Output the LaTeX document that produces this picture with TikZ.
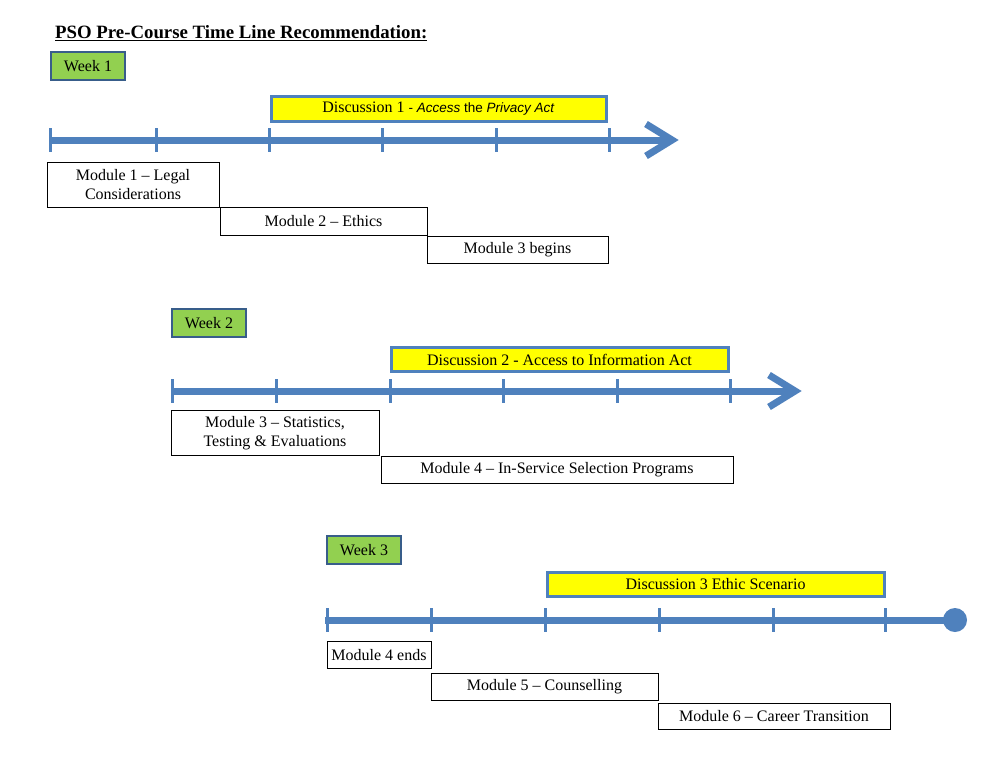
\documentclass[tikz,border=0pt]{standalone}
\usepackage{fontspec}
\setmainfont{Liberation Serif}
\newfontfamily\arial{Liberation Sans}
\definecolor{tlblue}{HTML}{4F81BD}
\definecolor{wkgreen}{HTML}{92D050}
\definecolor{wkborder}{HTML}{385D8A}
\definecolor{discyellow}{HTML}{FFFF00}
\begin{document}
\begin{tikzpicture}[x=1pt,y=-1pt,
  txt/.style={font=\fontsize{16}{19}\selectfont},
  modbox/.style={txt,draw=black,line width=0.8pt,fill=white,inner sep=0pt,align=center},
  weekbox/.style={txt,draw=wkborder,line width=1.2pt,fill=wkgreen,inner sep=0pt,minimum width=74pt,minimum height=28pt},
  discbox/.style={txt,draw=tlblue,line width=3pt,fill=discyellow,inner sep=0pt},
  tline/.style={draw=tlblue,line width=7pt},
  tick/.style={draw=tlblue,line width=3pt},
  chev/.style={draw=tlblue,line width=7pt,line join=miter,miter limit=10}
]
\useasboundingbox (0,0) rectangle (1008,758);
\fill[white] (0,0) rectangle (1008,758);

% title
\node[anchor=west,inner sep=0pt,font=\fontsize{18.8}{22}\selectfont\bfseries] (title) at (55,33) {\underline{PSO Pre-Course Time Line Recommendation:}};

% ---------- Week 1 ----------
\node[weekbox] (w1) at (88,66) {Week 1};
\node[discbox,minimum width=335pt,minimum height=25pt] (d1) at (438.5,108.5)
  {Discussion 1 {\arial\fontsize{13.5}{16}\selectfont - \textit{Access} the \textit{Privacy Act}}};
\coordinate (t1s) at (49,140);
\coordinate (t1e) at (668,140);
\draw[tline] (t1s) -- (t1e);
\foreach \x in {50,156,269,382,496,609} \draw[tick] (\x,128) -- (\x,152);
\draw[chev] (646,124) -- (672,140) -- (646,156);
\node[modbox,minimum width=172pt,minimum height=45pt] (m1) at (133,185) {Module 1 -- Legal\\Considerations};
\node[modbox,minimum width=207pt,minimum height=28pt] (m2) at (323.5,221) {Module 2 -- Ethics};
\node[modbox,minimum width=181pt,minimum height=27pt] (m3a) at (517.5,249.5) {Module 3 begins};

% ---------- Week 2 ----------
\node[weekbox] (w2) at (209,323) {Week 2};
\node[discbox,minimum width=337pt,minimum height=24pt] (d2) at (559.5,359.5)
  {Discussion 2 - Access to Information Act};
\coordinate (t2s) at (171,391);
\coordinate (t2e) at (791,391);
\draw[tline] (t2s) -- (t2e);
\foreach \x in {172,276,390,503,617,730} \draw[tick] (\x,379) -- (\x,403);
\draw[chev] (769,375) -- (795,391) -- (769,407);
\node[modbox,minimum width=208pt,minimum height=45pt] (m3) at (275,433) {Module 3 -- Statistics,\\Testing \& Evaluations};
\node[modbox,minimum width=352pt,minimum height=27pt] (m4) at (557,469.5) {Module 4 -- In-Service Selection Programs};

% ---------- Week 3 ----------
\node[weekbox] (w3) at (364,550) {Week 3};
\node[discbox,minimum width=337pt,minimum height=24pt] (d3) at (715.5,584.5)
  {Discussion 3 Ethic Scenario};
\coordinate (t3s) at (325,620);
\coordinate (t3e) at (955,620);
\draw[tline] (t3s) -- (t3e);
\foreach \x in {327,431,545,659,773,885} \draw[tick] (\x,608) -- (\x,632);
\fill[tlblue] (t3e) circle (12);
\node[modbox,minimum width=104pt,minimum height=27pt] (m4e) at (379,655) {Module 4 ends};
\node[modbox,minimum width=227pt,minimum height=27pt] (m5) at (544.5,687) {Module 5 -- Counselling};
\node[modbox,minimum width=232pt,minimum height=26pt] (m6) at (774,716.5) {Module 6 -- Career Transition};
\end{tikzpicture}
\end{document}
